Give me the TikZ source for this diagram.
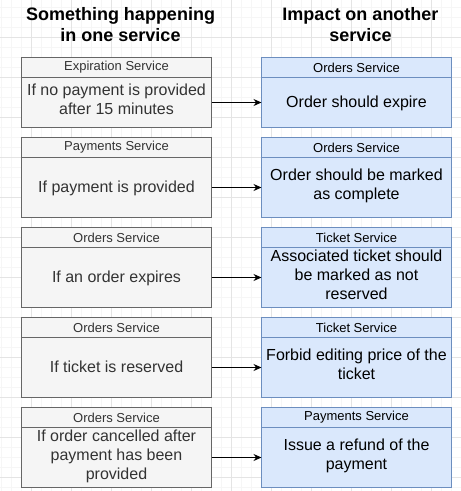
\documentclass[tikz,border=0pt]{standalone}
\usepackage{fontspec}
\setmainfont{Liberation Sans}
\usetikzlibrary{arrows.meta}
\definecolor{lfill}{HTML}{F5F5F5}
\definecolor{lline}{HTML}{666666}
\definecolor{ltext}{HTML}{333333}
\definecolor{rfill}{HTML}{DAE8FC}
\definecolor{rline}{HTML}{6C8EBF}
\definecolor{gridminor}{HTML}{F6F6F6}
\definecolor{gridmajor}{HTML}{E4E4E4}
\begin{document}
\begin{tikzpicture}[x=1pt,y=-1pt,
  box/.style={rectangle, draw, line width=1pt, minimum width=190pt, inner sep=0pt, outer sep=0pt, anchor=north west, align=center},
  lbox/.style={box, fill=lfill, draw=lline, text=ltext},
  rbox/.style={box, fill=rfill, draw=rline, text=black},
  hdr/.style={minimum height=20pt, font=\fontsize{13}{15}\selectfont},
  body/.style={font=\fontsize{16}{19}\selectfont, execute at begin node={\rule{0pt}{15pt}}, execute at end node=\strut},
  title/.style={font=\fontsize{18}{21}\selectfont\bfseries, align=center, inner sep=0pt, execute at begin node=\strut, execute at end node=\strut},
  arr/.style={line width=1pt, -{Stealth[length=8pt,width=7pt]}}
]
\useasboundingbox (0,0) rectangle (461,491);
\fill[white] (0,0) rectangle (461,491);
% grid
\foreach \x in {1.5,11.5,...,461} \draw[gridminor, line width=1pt] (\x,0) -- (\x,491);
\foreach \y in {7.5,17.5,...,491} \draw[gridminor, line width=1pt] (0,\y) -- (461,\y);
\foreach \x in {31.5,71.5,...,461} \draw[gridmajor, line width=1pt] (\x,0) -- (\x,491);
\foreach \y in {37.5,77.5,...,491} \draw[gridmajor, line width=1pt] (0,\y) -- (461,\y);

% titles
\node[title] (t1) at (120.5,27.8) {Something happening\\in one service};
\node[title] (t2) at (360.5,27.8) {Impact on another\\service};

% row 1
\node[lbox, hdr] (lh1) at (21.5,57.5) {Expiration Service};
\node[lbox, body, minimum height=50pt] (lb1) at (21.5,77.5) {If no payment is provided\\after 15 minutes};
\node[rbox, hdr] (rh1) at (261.5,57.5) {Orders Service};
\node[rbox, body, minimum height=50pt] (rb1) at (261.5,77.5) {Order should expire};
\draw[arr] (lb1.east) -- (rb1.west);

% row 2
\node[lbox, hdr] (lh2) at (21.5,137.5) {Payments Service};
\node[lbox, body, minimum height=60pt] (lb2) at (21.5,157.5) {If payment is provided};
\node[rbox, hdr] (rh2) at (261.5,137.5) {Orders Service};
\node[rbox, body, minimum height=60pt] (rb2) at (261.5,157.5) {Order should be marked\\as complete};
\draw[arr] (lb2.east) -- (rb2.west);

% row 3
\node[lbox, hdr] (lh3) at (21.5,227.5) {Orders Service};
\node[lbox, body, minimum height=60pt] (lb3) at (21.5,247.5) {If an order expires};
\node[rbox, hdr] (rh3) at (261.5,227.5) {Ticket Service};
\node[rbox, body, minimum height=60pt] (rb3) at (261.5,247.5) {Associated ticket should\\be marked as not\\reserved};
\draw[arr] (lb3.east) -- (rb3.west);

% row 4
\node[lbox, hdr] (lh4) at (21.5,317.5) {Orders Service};
\node[lbox, body, minimum height=60pt] (lb4) at (21.5,337.5) {If ticket is reserved};
\node[rbox, hdr] (rh4) at (261.5,317.5) {Ticket Service};
\node[rbox, body, minimum height=60pt] (rb4) at (261.5,337.5) {Forbid editing price of the\\ticket};
\draw[arr] (lb4.east) -- (rb4.west);

% row 5
\node[lbox, hdr] (lh5) at (21.5,407.5) {Orders Service};
\node[lbox, body, minimum height=60pt] (lb5) at (21.5,427.5) {If order cancelled after\\payment has been\\provided};
\node[rbox, hdr] (rh5) at (261.5,407.5) {Payments Service};
\node[rbox, body, minimum height=60pt] (rb5) at (261.5,427.5) {Issue a refund of the\\payment};
\draw[arr] (lb5.east) -- (rb5.west);
\end{tikzpicture}
\end{document}
